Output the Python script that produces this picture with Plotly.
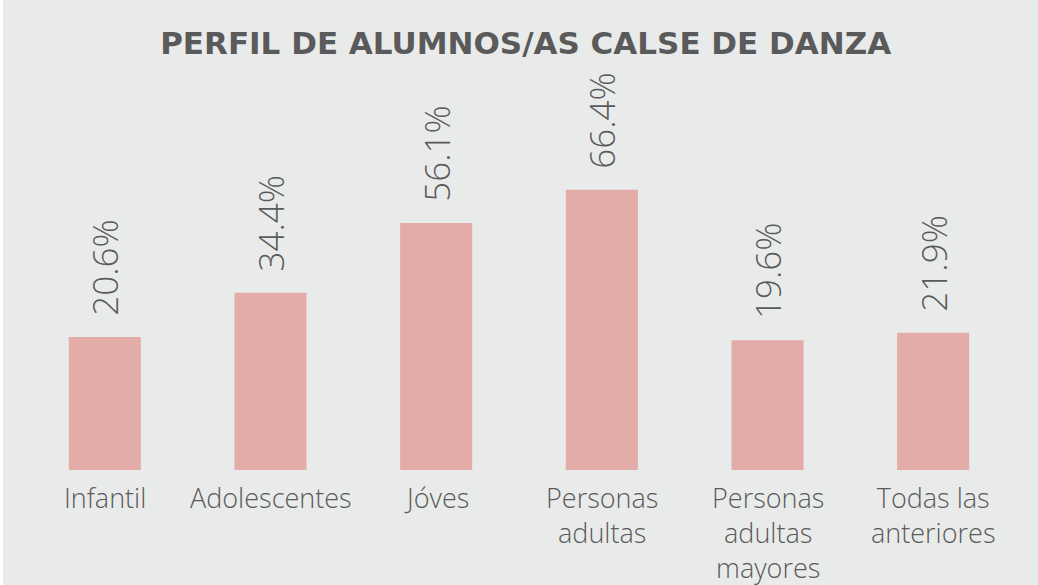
import plotly.graph_objects as go

categories = ["Infantil", "Adolescentes", "Jóves", "Personas adultas",
              "Personas adultas mayores", "Todas las anteriores"]
tick_labels = ["Infantil", "Adolescentes", "Jóves", "Personas<br>adultas",
               "Personas<br>adultas<br>mayores", "Todas las<br>anteriores"]
values = [20.6, 34.4, 56.1, 66.4, 19.6, 21.9]
value_labels = ["20.6%", "34.4%", "56.1%", "66.4%", "19.6%", "21.9%"]

# axis settings (original chart: value axis minimum below zero, bars drawn from axis minimum)
Y_MIN = -20.8
Y_MAX = 100.6

BG = "#E9EBEA"
BAR = "#E4ACA9"
TXT = "#5A5A5A"

W, H = 1035, 585

fig = go.Figure()
fig.add_trace(go.Bar(
    x=categories,
    y=[v - Y_MIN for v in values],
    base=Y_MIN,
    marker=dict(color=BAR, line=dict(width=0)),
    text=["\u00a0\u00a0" + t for t in value_labels],
    textposition="outside",
    textangle=-90,
    constraintext="none",
    textfont=dict(family="Open Sans", size=35, color=TXT, weight=300),
    cliponaxis=False,
    hoverinfo="skip",
))

# category labels below each bar
for cat, lab in zip(categories, tick_labels):
    fig.add_annotation(
        x=cat, xref="x", y=0, yref="paper",
        text=lab, showarrow=False,
        xanchor="center", yanchor="top", align="center",
        yshift=-7,
        font=dict(family="Open Sans", size=27, color=TXT, weight=300),
    )

fig.update_layout(
    width=W, height=H,
    margin=dict(l=19, r=22, t=80, b=115, autoexpand=False),
    paper_bgcolor=BG, plot_bgcolor=BG,
    bargap=0.565,
    showlegend=False,
    title=dict(text="<b>PERFIL DE ALUMNOS/AS CALSE DE DANZA</b>",
               x=0.505, xanchor="center", y=1 - 43 / H, yanchor="middle",
               yref="container",
               font=dict(family="DejaVu Sans", size=31, color=TXT)),
    xaxis=dict(showticklabels=False, showline=False, showgrid=False, ticks="",
               automargin=False),
    yaxis=dict(range=[Y_MIN, Y_MAX], visible=False, showgrid=False,
               zeroline=False, automargin=False),
)

fig.write_html("out.html",
               post_script="document.body.style.margin='0px 0px 0px 3px';")
